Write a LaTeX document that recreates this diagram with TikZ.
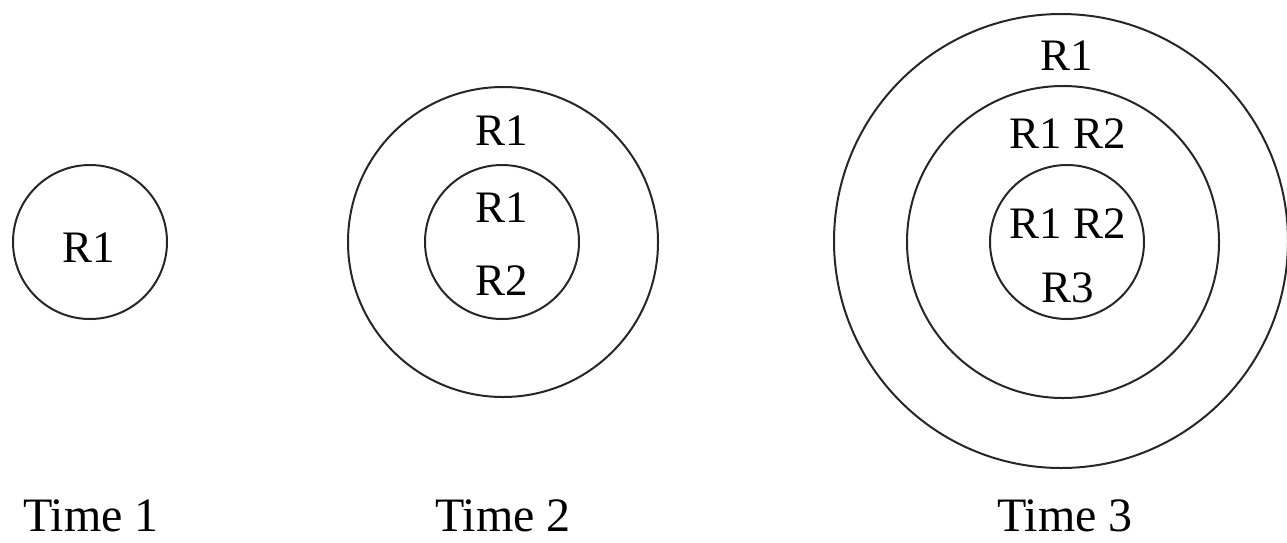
\documentclass[tikz,border=0pt]{standalone}
\usepackage{fontspec}
\setmainfont{Liberation Serif}
\begin{document}
\begin{tikzpicture}[x=1pt,y=-1pt,
  ring/.style={draw=black!85,line width=2pt},
  lbl/.style={inner sep=0pt,anchor=base,font=\fontsize{45}{54}\selectfont},
  tlbl/.style={inner sep=0pt,anchor=base,font=\fontsize{48}{58}\selectfont}]
\useasboundingbox (0,0) rectangle (1287,542);
% Time 1
\draw[ring] (90,242) circle (77);
\node[lbl] (a1) at (89,262) {R1};
% Time 2
\draw[ring] (503,242) circle (155);
\draw[ring] (502,242) circle (77);
\node[lbl] (b1) at (502,145) {R1};
\node[lbl] (b2) at (502,222) {R1};
\node[lbl] (b3) at (502,295) {R2};
% Time 3
\draw[ring] (1061,241) circle (227);
\draw[ring] (1063,242) circle (156);
\draw[ring] (1067,242) circle (77);
\node[lbl] (c1) at (1067,70) {R1};
\node[lbl] (c2) at (1068,148) {R1 R2};
\node[lbl] (c3) at (1068,238) {R1 R2};
\node[lbl] (c4) at (1068,302) {R3};
% labels
\node[tlbl] (t1) at (91,531) {Time 1};
\node[tlbl] (t2) at (503,531) {Time 2};
\node[tlbl] (t3) at (1065,531) {Time 3};
\end{tikzpicture}
\end{document}
